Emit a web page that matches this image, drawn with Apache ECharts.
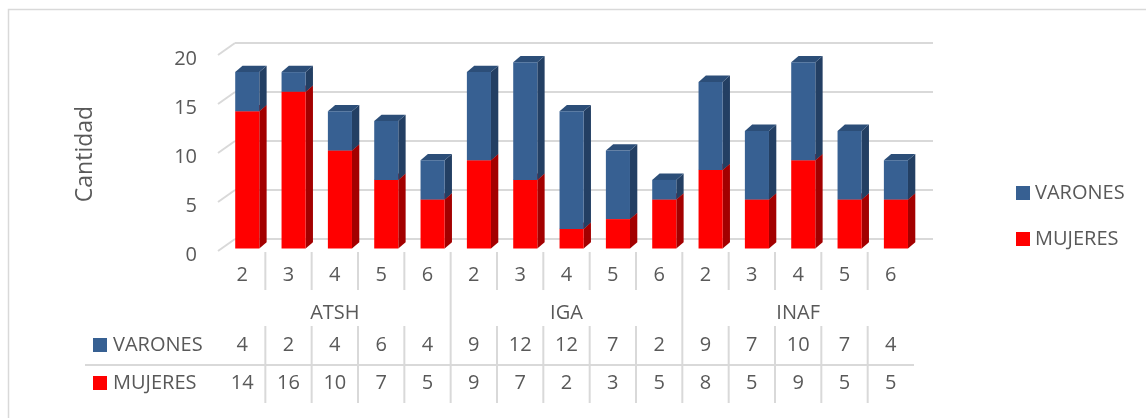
<!DOCTYPE html>
<html>
<head>
<meta charset="utf-8">
<script src="https://cdn.jsdelivr.net/npm/echarts@6/dist/echarts.min.js"></script>
<style>
  html, body { margin: 0; padding: 0; background: #fff; }
  #chart { width: 1146px; height: 418px; }
</style>
</head>
<body>
<div id="chart"></div>
<script>
var edades = ['2','3','4','5','6','2','3','4','5','6','2','3','4','5','6'];
var grupos = ['ATSH','IGA','INAF'];
var varones = [4,2,4,6,4, 9,12,12,7,2, 9,7,10,7,4];
var mujeres = [14,16,10,7,5, 9,7,2,3,5, 8,5,9,5,5];
var yTicks = [0,5,10,15,20];

var grafica = function(){

    var chart = echarts.init(document.getElementById('chart'));
    var fuente = 'Open Sans';
    var gris = '#595959';
    var linea = '#D9D9D9';

    // caja 3D de una barra: cara frontal, lateral y superior
    function caja(api, i, desde, hasta, c) {
        var band = api.size([1, 0])[0];
        var cx = api.coord([i, 0])[0];
        var y0 = api.coord([i, desde])[1];
        var y1 = api.coord([i, hasta])[1];
        var w = band * 0.52, l = cx - band * 0.15, r = l + w;
        var dx = band * 0.158, dy = band * 0.136;
        return {
            type: 'group',
            children: [
                {type: 'polygon', shape: {points: [[r, y1], [r + dx, y1 - dy], [r + dx, y0 - dy], [r, y0]]}, style: {fill: c[1]}},
                {type: 'polygon', shape: {points: [[l, y1], [l + dx, y1 - dy], [r + dx, y1 - dy], [r, y1]]}, style: {fill: c[2]}},
                {type: 'rect', shape: {x: l, y: y1, width: w, height: y0 - y1}, style: {fill: c[0]}}
            ]
        };
    }

    var rojo = ['#FF0000', '#A30000', '#C80000'];
    var azul = ['#376092', '#233F63', '#2C4E78'];

    function texto(x, y, t, align) {
        return {type: 'text', style: {x: x, y: y, text: t, fill: gris, font: '20px "' + fuente + '"',
            align: align || 'center', verticalAlign: 'middle'}};
    }
    function raya(x1, y1, x2, y2) {
        return {type: 'line', shape: {x1: x1, y1: y1, x2: x2, y2: y2}, style: {stroke: linea, lineWidth: 2}};
    }

    function opciones() {
        var option = {
            animation: false,
            textStyle: {fontFamily: fuente},
            graphic: [{
                type: 'rect', left: 6, top: 7,
                shape: {x: 0, y: 0, width: 1160, height: 430},
                style: {fill: null, stroke: linea, lineWidth: 1.5}
            }],
            grid: {left: 219, right: 232, top: 52.5, bottom: 169.5},
            legend: {
                orient: 'vertical', left: 1011, top: 178,
                itemWidth: 14, itemHeight: 14, itemGap: 26,
                icon: 'rect',
                data: ['VARONES', 'MUJERES'],
                textStyle: {fontSize: 20, color: gris, fontFamily: fuente}
            },
            xAxis: {
                type: 'category', data: edades,
                axisLine: {show: false}, axisTick: {show: false}, axisLabel: {show: false}
            },
            yAxis: {
                type: 'value', min: 0, max: 20, interval: 5,
                name: 'Cantidad', nameLocation: 'middle', nameGap: 122,
                nameTextStyle: {fontSize: 23, color: gris, fontFamily: fuente, padding: [0, 7, 0, 0]},
                axisLine: {show: false}, axisTick: {show: false}, splitLine: {show: false},
                axisLabel: {fontSize: 20, color: gris, margin: 22, verticalAlign: 'top', lineHeight: 14, fontFamily: fuente}
            },
            series: [
                {
                    // paredes con lineas de division
                    type: 'custom', name: 'pared', silent: true, z: 1, clip: false,
                    data: yTicks.map(function(v){ return [0, v]; }),
                    renderItem: function(params, api) {
                        var cs = params.coordSys;
                        var y = api.coord([0, api.value(1)])[1];
                        return {type: 'group', children: [
                            raya(cs.x - 1, y + 2.5, cs.x + 16, y - 9.5),
                            raya(cs.x + 16, y - 9.5, cs.x + cs.width + 19, y - 9.5)
                        ]};
                    }
                },
                {
                    type: 'custom', name: 'MUJERES', z: 3,
                    itemStyle: {color: rojo[0]},
                    data: mujeres.map(function(v, i){ return [i, v]; }),
                    encode: {x: 0, y: 1},
                    renderItem: function(params, api) {
                        return caja(api, api.value(0), 0, api.value(1), rojo);
                    }
                },
                {
                    type: 'custom', name: 'VARONES', z: 3,
                    itemStyle: {color: azul[0]},
                    data: varones.map(function(v, i){ return [i, mujeres[i], mujeres[i] + v]; }),
                    encode: {x: 0, y: 2},
                    renderItem: function(params, api) {
                        return caja(api, api.value(0), api.value(1), api.value(2), azul);
                    }
                },
                {
                    // tabla de datos bajo el grafico
                    type: 'custom', name: 'tabla', silent: true, z: 2, clip: false,
                    data: edades.map(function(e, i){ return [i, 0]; }),
                    renderItem: function(params, api) {
                        var cs = params.coordSys;
                        var i = api.value(0);
                        var band = api.size([1, 0])[0];
                        var cx = api.coord([i, 0])[0];
                        var b = cs.y + cs.height;
                        var hijos = [
                            texto(cx, b + 27, edades[i]),
                            texto(cx, b + 97, String(varones[i])),
                            texto(cx, b + 135, String(mujeres[i]))
                        ];
                        var xl = cx - band / 2;
                        if (i > 0) {
                            if (i % 5 === 0) {
                                hijos.push(raya(xl, b + 3.5, xl, b + 154.5));
                            } else {
                                hijos.push(raya(xl, b + 3.5, xl, b + 41.5));
                                hijos.push(raya(xl, b + 77.5, xl, b + 154.5));
                            }
                        }
                        if (i % 5 === 2) {
                            hijos.push(texto(cx, b + 65, grupos[Math.floor(i / 5)]));
                        }
                        if (i === 0) {
                            hijos.push(raya(85, b + 116.5, cs.x + cs.width, b + 116.5));
                            hijos.push({type: 'rect', shape: {x: 93, y: b + 89.5, width: 14, height: 14}, style: {fill: azul[0]}});
                            hijos.push({type: 'rect', shape: {x: 93, y: b + 127.5, width: 14, height: 14}, style: {fill: rojo[0]}});
                            hijos.push(texto(113, b + 97, 'VARONES', 'left'));
                            hijos.push(texto(113, b + 135, 'MUJERES', 'left'));
                        }
                        return {type: 'group', children: hijos};
                    }
                }
            ]
        };
        chart.setOption(option);
    }

    return {
        init: function(){
            opciones();
        }
    };
}();

grafica.init();
</script>
</body>
</html>
